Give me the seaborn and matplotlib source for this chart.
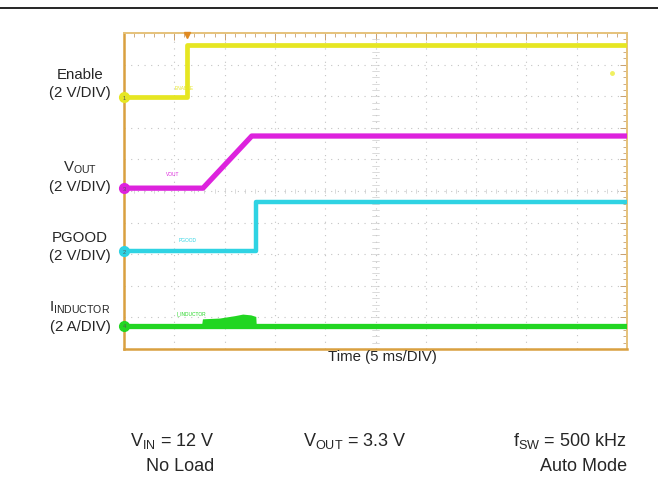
import numpy as np
import pandas as pd
import matplotlib
matplotlib.use("Agg")
import matplotlib.pyplot as plt
from matplotlib.ticker import MultipleLocator
from matplotlib import font_manager
import seaborn as sns

sns.set_theme(style="white")
plt.rcParams['font.family'] = ['Liberation Sans', 'DejaVu Sans']
plt.rcParams['mathtext.fontset'] = 'custom'
plt.rcParams['mathtext.rm'] = 'Liberation Sans'
plt.rcParams['mathtext.it'] = 'Liberation Sans'

_names = {f.name for f in font_manager.fontManager.ttflist}
NARROW = 'Liberation Sans Narrow' if 'Liberation Sans Narrow' in _names else 'Liberation Sans'

# ---- data (time in ms, 5 ms/div; values in V or A) ----
enable_t = [0.0, 6.25, 6.25, 50.0]
enable_v = [0.0, 0.0, 3.3, 3.3]
vout_t = [0.0, 7.85, 12.7, 50.0]
vout_v = [0.0, 0.0, 3.3, 3.3]
pgood_t = [0.0, 13.1, 13.1, 50.0]
pgood_v = [0.0, 0.0, 3.1, 3.1]
ind_t = [0.0, 50.0]
ind_a = [0.0, 0.0]
ind_env_t = [7.7, 7.8, 9.5, 11.0, 11.8, 12.6, 13.1, 13.15]
ind_env_a = [0.0, 0.45, 0.5, 0.65, 0.75, 0.7, 0.6, 0.0]

channel_names = ["Enable", "V$_{\\mathrm{OUT}}$", "PGOOD", "I$_{\\mathrm{INDUCTOR}}$"]
channel_scales = ["(2 V/DIV)", "(2 V/DIV)", "(2 V/DIV)", "(2 A/DIV)"]
channel_ids = ["1", "3", "2", "4"]
scope_tags = ["ENABLE", "VOUT", "PGOOD", "I_INDUCTOR"]

V_PER_DIV = 2.0
MS_PER_DIV = 5.0
# trace baselines (graticule divisions)
offsets = [7.97, 5.09, 3.10, 0.73]
colors = ["#e6e622", "#dd22dd", "#2fd3e3", "#22d622"]

fig = plt.figure(figsize=(6.58, 4.81), dpi=100)
W, H = 658, 481
ax = fig.add_axes([124 / W, 1 - 350 / H, (627 - 124) / W, (350 - 34) / H])

def to_div(vals, off):
    return [off + v / V_PER_DIV for v in vals]

series = [(enable_t, enable_v), (vout_t, vout_v), (pgood_t, pgood_v), (ind_t, ind_a)]
lws = [3.4, 3.8, 3.2, 3.8]
for (t, v), off, c, lw in zip(series, offsets, colors, lws):
    df = pd.DataFrame({"t": t, "y": to_div(v, off)})
    sns.lineplot(data=df, x="t", y="y", ax=ax, color=c, lw=lw,
                 estimator=None, sort=False, zorder=3)

# inductor ripple envelope during soft start
ax.fill_between(ind_env_t, offsets[3], to_div(ind_env_a, offsets[3]),
                color=colors[3], lw=0, zorder=3)

ax.set_xlim(0, 10 * MS_PER_DIV)
ax.set_ylim(0, 10)
ax.set_xlabel("")
ax.set_ylabel("")
ax.xaxis.set_major_locator(MultipleLocator(MS_PER_DIV))
ax.yaxis.set_major_locator(MultipleLocator(1))
ax.xaxis.set_minor_locator(MultipleLocator(MS_PER_DIV / 5))
ax.yaxis.set_minor_locator(MultipleLocator(0.2))
ax.grid(True, which="major", ls=(0, (1, 5)), color="#c4c4c4", lw=0.8)
ax.tick_params(which="both", direction="in", top=True, right=True,
               labelbottom=False, labelleft=False, color="#c8a070")
ax.tick_params(which="major", length=5, width=0.7)
ax.tick_params(which="minor", length=3, width=0.6)
for s in ["left", "bottom"]:
    ax.spines[s].set_color("#d9a040")
    ax.spines[s].set_linewidth(1.8)
for s in ["top", "right"]:
    ax.spines[s].set_color("#e6c27a")
    ax.spines[s].set_linewidth(1.4)

# center cross ticks
for k in np.arange(0, 50.01, 1.0):
    ax.plot([k, k], [4.94, 5.06], color="#cccccc", lw=0.5, zorder=1)
for k in np.arange(0, 10.01, 0.2):
    ax.plot([24.7, 25.3], [k, k], color="#cccccc", lw=0.5, zorder=1)

# channel markers at left edge
for off, c, cid in zip(offsets, colors, channel_ids):
    ax.plot([0], [off], marker="o", ms=7, color=c, clip_on=False, zorder=5)
    ax.text(0, off, cid, fontsize=4, ha="center", va="center", color="#555555",
            zorder=6, clip_on=False)

# trigger marker
ax.plot([6.25], [9.93], marker="v", ms=5, color="#e08a20", clip_on=False, zorder=6)
ax.plot([48.5], [8.75], marker="o", ms=2.5, color="#f0f060", zorder=4)

# tiny scope tags
tag_pos = [(5.0, 8.26), (4.2, 5.55), (5.4, 3.48), (5.2, 1.15)]
for (x, y), tag, c in zip(tag_pos, scope_tags, colors):
    ax.text(x, y, tag, fontsize=3.5, color=c, ha="left", va="center", zorder=4)

# left channel labels
label_y = [(75, 93), (168, 187), (238, 256), (308, 327)]
for name, scale, (y1, y2) in zip(channel_names, channel_scales, label_y):
    fig.text(80 / W, 1 - y1 / H, name, ha="center", va="center", fontsize=10.8)
    fig.text(80 / W, 1 - y2 / H, scale, ha="center", va="center", fontsize=10.8)

fig.text(382 / W, 1 - 357 / H, "Time (5 ms/DIV)", ha="center", va="center", fontsize=10.8)

# conditions
bfs = 13
fig.text(215 / W, 1 - 441 / H, "V$_{\\mathrm{IN}}$ = 12 V", ha="right", va="center",
         fontsize=bfs, family=NARROW)
fig.text(214 / W, 1 - 467 / H, "No Load", ha="right", va="center", fontsize=bfs, family=NARROW)
fig.text(355 / W, 1 - 441 / H, "V$_{\\mathrm{OUT}}$ = 3.3 V", ha="center", va="center",
         fontsize=bfs, family=NARROW)
fig.text(627 / W, 1 - 441 / H, "f$_{\\mathrm{SW}}$ = 500 kHz", ha="right", va="center",
         fontsize=bfs, family=NARROW)
fig.text(627 / W, 1 - 467 / H, "Auto Mode", ha="right", va="center", fontsize=bfs, family=NARROW)

# top rule
fig.add_artist(plt.Line2D([0, 1], [1 - 8.5 / H, 1 - 8.5 / H], color="black", lw=1.2,
                          transform=fig.transFigure))

fig.savefig("out.png", dpi=100)
